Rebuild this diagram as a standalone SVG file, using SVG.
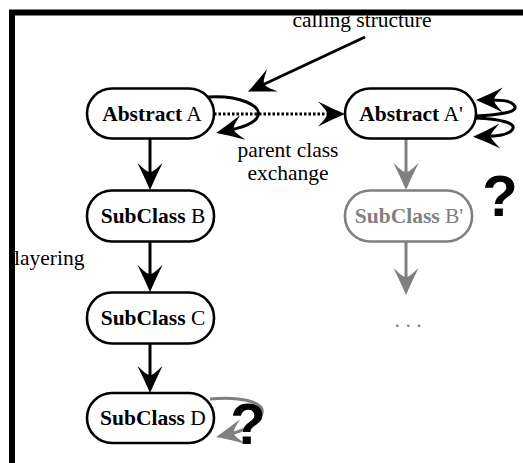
<svg xmlns="http://www.w3.org/2000/svg" width="523" height="463" viewBox="0 0 523 463">
<style>
.box{fill:#fff;stroke:#000;stroke-width:2.6}
.gbox{fill:#fff;stroke:#808080;stroke-width:2.6}
.lbl{font-family:"Liberation Serif","Times New Roman",serif;font-size:21.5px;text-anchor:middle;fill:#000}
.glbl{font-family:"Liberation Serif","Times New Roman",serif;font-size:21.5px;text-anchor:middle;fill:#808080}
.b{font-weight:bold}
.ln{fill:none;stroke:#000;stroke-width:3}
.gln{fill:none;stroke:#808080;stroke-width:3}
.q{font-family:"Liberation Sans",Arial,sans-serif;font-weight:bold;font-size:58px;text-anchor:middle;fill:#000}
</style>
<defs>
<marker id="ah" markerUnits="userSpaceOnUse" viewBox="-29 -14 31 28" refX="-10" refY="0" markerWidth="31" markerHeight="28" orient="auto">
<path d="M0,0 C-9,-4 -18,-8 -27,-12.5 C-21,-6 -18,-3 -18,0 C-18,3 -21,6 -27,12.5 C-18,8 -9,4 0,0 Z" fill="#000"/>
</marker>
<marker id="gah" markerUnits="userSpaceOnUse" viewBox="-29 -14 31 28" refX="-10" refY="0" markerWidth="31" markerHeight="28" orient="auto">
<path d="M0,0 C-9,-4 -18,-8 -27,-12.5 C-21,-6 -18,-3 -18,0 C-18,3 -21,6 -27,12.5 C-18,8 -9,4 0,0 Z" fill="#808080"/>
</marker>
</defs>
<rect width="523" height="463" fill="#fff"/>
<polyline points="12,470 12,12.5 530,12.5" fill="none" stroke="#000" stroke-width="6"/>

<g id="connectors">
<line class="ln" x1="365" y1="37" x2="257" y2="87.5" marker-end="url(#ah)"/>
<line class="ln" x1="214" y1="114" x2="335" y2="114" stroke-dasharray="2.5,2" marker-end="url(#ah)"/>
<path class="ln" d="M208,97 C240,95 262,106 258,116 C255,124 240,128 226,131" marker-end="url(#ah)"/>
<path class="ln" d="M475,116 C500,115 520,112 514,105 C510,100 500,100 486,100" marker-end="url(#ah)"/>
<path class="ln" d="M475,118 C500,119 518,123 512,130 C508,135 498,136 483,136.5" marker-end="url(#ah)"/>
<line class="ln" x1="150" y1="139" x2="150" y2="180" marker-end="url(#ah)"/>
<line class="ln" x1="150" y1="242" x2="150" y2="282" marker-end="url(#ah)"/>
<line class="ln" x1="150" y1="343" x2="150" y2="383" marker-end="url(#ah)"/>
<line class="gln" x1="406" y1="138" x2="406" y2="180" marker-end="url(#gah)"/>
<line class="gln" x1="406" y1="241" x2="406" y2="285" marker-end="url(#gah)"/>
<path class="gln" d="M210,399 C240,396 265,402 262,413 C259,425 240,432 226,435" marker-end="url(#gah)"/>
</g>

<g id="nodeA">
<rect class="box" x="87" y="88.5" width="127" height="50" rx="25"/>
<text class="lbl" x="152" y="121"><tspan class="b">Abstract</tspan> A</text>
</g>
<g id="nodeA2">
<rect class="box" x="345" y="88.5" width="131" height="50" rx="25"/>
<text class="lbl" x="411" y="121"><tspan class="b">Abstract</tspan> A'</text>
</g>
<g id="nodeB">
<rect class="box" x="87" y="190.5" width="127" height="51" rx="25"/>
<text class="lbl" x="153" y="223"><tspan class="b">SubClass</tspan> B</text>
</g>
<g id="nodeB2">
<rect class="gbox" x="345" y="190.5" width="127" height="51" rx="25"/>
<text class="glbl" x="409" y="223"><tspan class="b">SubClass</tspan> B'</text>
</g>
<g id="nodeC">
<rect class="box" x="87" y="292.5" width="127" height="51" rx="25"/>
<text class="lbl" x="153" y="325"><tspan class="b">SubClass</tspan> C</text>
</g>
<g id="nodeD">
<rect class="box" x="87" y="393" width="127" height="50" rx="25"/>
<text class="lbl" x="153" y="425"><tspan class="b">SubClass</tspan> D</text>
</g>

<text class="lbl" x="362" y="27">calling structure</text>
<text class="lbl" x="288" y="157">parent class</text>
<text class="lbl" x="288" y="180">exchange</text>
<text class="lbl" x="14" y="265" style="text-anchor:start">layering</text>
<text class="glbl" x="394.5" y="327" style="text-anchor:start;letter-spacing:5.5px">...</text>
<text class="q" x="500" y="216">?</text>
<text class="q" x="248" y="444">?</text>
</svg>
